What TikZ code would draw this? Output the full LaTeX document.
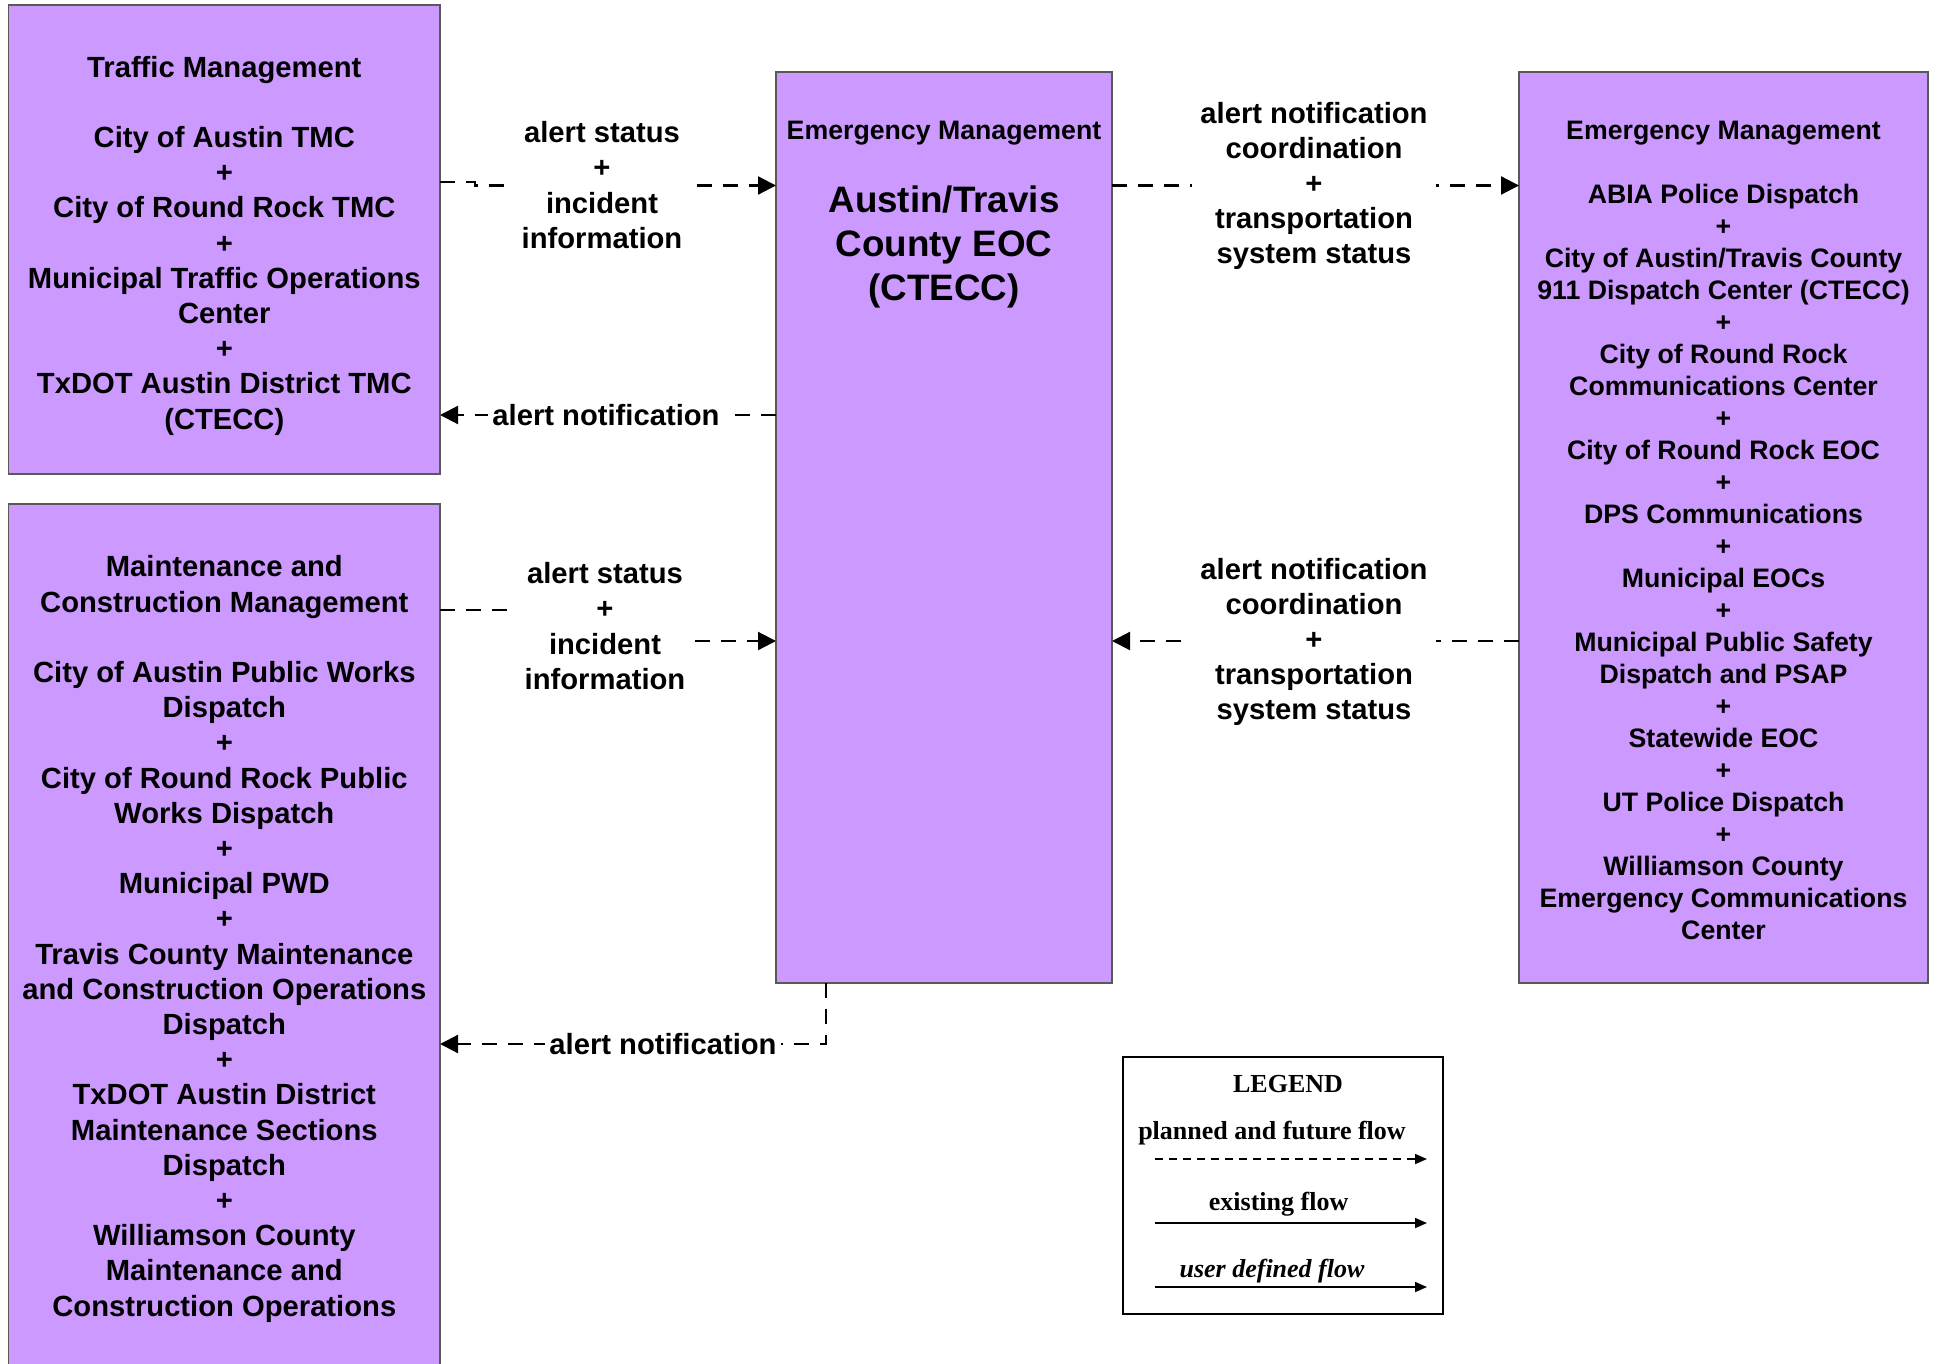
\documentclass[tikz,border=0pt]{standalone}
\usepackage{fontspec}
\setmainfont{Liberation Sans}
\newfontfamily\legendfont{Liberation Serif}
\usetikzlibrary{shapes,arrows.meta,calc,positioning,backgrounds}
\definecolor{boxpurple}{HTML}{CC99FF}

\begin{document}
\begin{tikzpicture}[x=0.5pt,y=-0.5pt,
  every node/.style={font=\bfseries},
  block/.style={draw=black!65,fill=boxpurple,line width=0.6pt,rectangle,
    outer sep=0pt,inner sep=0pt},
  boxtext/.style={align=center,inner sep=0pt,font=\fontsize{14.6}{17.6}\selectfont\bfseries},
  smalltext/.style={boxtext,font=\fontsize{13.35}{16}\selectfont\bfseries},
  flow/.style={line width=1.1pt,dash pattern=on 7.5pt off 5.5pt,-{Triangle[length=9pt,width=9pt]}},
  flowlabel/.style={fill=white,align=center,inner xsep=2pt,inner ysep=1pt,
    font=\fontsize{14.6}{17.6}\selectfont\bfseries},
  legtext/.style={inner sep=0pt,font=\fontsize{13}{15.6}\selectfont\legendfont\bfseries},
  legline/.style={line width=0.85pt,-{Triangle[length=6pt,width=5pt]}}]

  \useasboundingbox (0,0) rectangle (1937,1364);

  \node[block,minimum width=215.7pt,minimum height=234.5pt] (TM) at (224.3,239.5) {};
  \node[boxtext] (TMtext) at ($(TM.center)+(0,6)$)
    {Traffic Management\\[17.6pt]
     City of Austin TMC\\+\\City of Round Rock TMC\\+\\Municipal Traffic Operations\\Center\\+\\
     TxDOT Austin District TMC\\(CTECC)};

  \node[block,minimum width=215.7pt,minimum height=432pt] (MCM) at (224.3,936) {};
  \node[boxtext] (MCMtext) at ($(MCM.center)+(0,3)$)
    {Maintenance and\\Construction Management\\[17.6pt]
     City of Austin Public Works\\Dispatch\\+\\City of Round Rock Public\\Works Dispatch\\+\\
     Municipal PWD\\+\\Travis County Maintenance\\and Construction Operations\\Dispatch\\+\\
     TxDOT Austin District\\Maintenance Sections\\Dispatch\\+\\Williamson County\\
     Maintenance and\\Construction Operations};

  \node[block,minimum width=168pt,minimum height=455.5pt] (EOC) at (944,527.5) {};
  \node[smalltext] (EOChead) at (944,133) {Emergency Management};
  \node[boxtext,font=\fontsize{18.4}{22.2}\selectfont\bfseries] (EOCname) at (944,247)
    {Austin/Travis\\County EOC\\(CTECC)};

  \node[block,minimum width=204.5pt,minimum height=455.5pt] (EM) at (1723.5,527.5) {};
  \node[smalltext] (EMtext) at ($(EM.center)+(0,3)$)
    {Emergency Management\\[16pt]
     ABIA Police Dispatch\\+\\City of Austin/Travis County\\911 Dispatch Center (CTECC)\\+\\
     City of Round Rock\\Communications Center\\+\\City of Round Rock EOC\\+\\
     DPS Communications\\+\\Municipal EOCs\\+\\Municipal Public Safety\\Dispatch and PSAP\\+\\
     Statewide EOC\\+\\UT Police Dispatch\\+\\Williamson County\\Emergency Communications\\Center};

  \coordinate (y1) at (0,182);
  \coordinate (y2) at (0,185.5);
  \coordinate (y3) at (0,415);
  \coordinate (y4) at (0,610);
  \coordinate (y5) at (0,641);
  \coordinate (y6) at (0,1044);
  \coordinate (x4) at (826,0);

  \draw[flow] (TM.east |- y1) -- ++(35,0) -- ++(0,3.5) -- (EOC.west |- y2);
  \draw[flow] (EOC.west |- y3) -- (TM.east |- y3);
  \draw[flow] (MCM.east |- y4) -- ++(165,0) -- ++(0,31) -- (EOC.west |- y5);
  \draw[flow] (EOC.south -| x4) |- (MCM.east |- y6);
  \draw[flow] (EOC.east |- y2) -- (EM.west |- y2);
  \draw[flow] (EM.west |- y5) -- (EOC.east |- y5);

  \node[flowlabel,inner xsep=4pt] (L1) at (602,185) {alert status\\+\\incident\\information};
  \node[flowlabel] (L2) at (606,415) {alert notification};
  \node[flowlabel,inner xsep=4pt] (L3) at (605,626) {alert status\\+\\incident\\information};
  \node[flowlabel] (L4) at (663,1044) {alert notification};
  \node[flowlabel,inner xsep=4pt] (L5) at (1314,186)
    {alert notification\\coordination\\+\\transportation\\system status};
  \node[flowlabel,inner xsep=4pt] (L6) at (1314,642)
    {alert notification\\coordination\\+\\transportation\\system status};

  \node[draw,line width=1.3pt,minimum width=160pt,minimum height=128.5pt,inner sep=0pt] (LEG) at (1283,1185.5) {};
  \node[legtext] (LEGtitle) at (1288,1084) {LEGEND};
  \node[legtext] (planned) at (1272,1133) {planned and future flow};
  \node[legtext] (existing) at (1278.6,1204.5) {existing flow};
  \node[legtext,font=\fontsize{13}{15.6}\selectfont\legendfont\bfseries\itshape] (user) at (1272,1271.5) {user defined flow};
  \coordinate (p1) at (1155,1159);
  \coordinate (p2) at (1427,1159);
  \coordinate (e1) at (1155,1223);
  \coordinate (e2) at (1427,1223);
  \coordinate (u1) at (1155,1287);
  \coordinate (u2) at (1427,1287);
  \draw[legline,dash pattern=on 4pt off 3pt] (p1) -- (p2);
  \draw[legline] (e1) -- (e2);
  \draw[legline] (u1) -- (u2);
\end{tikzpicture}
\end{document}
